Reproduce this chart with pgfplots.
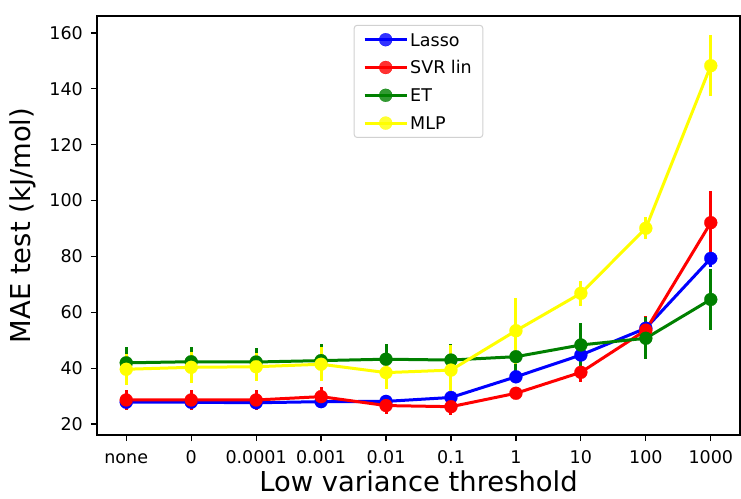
\documentclass[border=0pt]{standalone}
\usepackage{fontspec}
\setmainfont{DejaVu Sans}
\usepackage{pgfplots}
\pgfplotsset{compat=1.18}
\usepackage{pgfplotstable}

\definecolor{mplgreen}{RGB}{0,128,0}
\definecolor{mplyellow}{RGB}{255,255,0}

\pgfplotstableread{
x y e
0 27.8 1.0
1 27.8 1.0
2 27.6 1.0
3 28.0 1.0
4 28.1 1.0
5 29.5 1.5
6 36.9 2.0
7 44.7 2.5
8 54.3 2.5
9 79.3 3.0
}\lasso
\pgfplotstableread{
x y e
0 28.6 3.7
1 28.6 3.6
2 28.6 3.5
3 29.8 3.5
4 26.6 3.0
5 26.2 3.0
6 31.0 1.5
7 38.5 3.3
8 53.6 5.0
9 92.1 11.5
}\svr
\pgfplotstableread{
x y e
0 41.9 5.6
1 42.3 5.4
2 42.2 5.0
3 42.7 5.8
4 43.2 5.3
5 42.9 5.6
6 44.1 6.0
7 48.3 8.0
8 50.7 7.5
9 64.6 11.0
}\et
\pgfplotstableread{
x y e
0 39.6 5.6
1 40.3 5.5
2 40.5 5.0
3 41.4 6.0
4 38.4 6.0
5 39.3 9.0
6 53.4 11.8
7 66.8 4.4
8 90.1 4.0
9 148.3 11.0
}\mlp

\begin{document}
\begin{tikzpicture}
\begin{axis}[
  at={(0,0)}, anchor=south west,
  width=643pt, height=419pt, scale only axis,
  xmin=-0.45, xmax=9.45, ymin=16.06, ymax=166.1,
  xtick={0,1,2,3,4,5,6,7,8,9},
  xticklabels={\mbox{none},\mbox{0},\mbox{0.0001},\mbox{0.001},\mbox{0.01},\mbox{0.1},\mbox{1},\mbox{10},\mbox{100},\mbox{1000}},
  ytick={20,40,60,80,100,120,140,160},
  /pgf/number format/assume math mode=true,
  tick align=outside, major tick length=6pt,
  xtick pos=left, ytick pos=left,
  tick style={line width=1.2pt, black},
  axis line style={line width=1.2pt},
  tick label style={font=\fontsize{17.5}{21}\selectfont},
  xticklabel style={anchor=north, inner sep=0pt, text height=12.8pt, text depth=0pt, yshift=-9pt},
  yticklabel style={anchor=east, inner sep=0pt, xshift=-8pt},
  xlabel={Low variance threshold},
  ylabel={MAE test (kJ/mol)},
  every axis x label/.style={at={(axis description cs:0.5,0)}, anchor=base, inner sep=0pt, text depth=0pt, yshift=-56pt, font=\fontsize{27.4}{32}\selectfont},
  every axis y label/.style={at={(axis description cs:-0.1151,0.5)}, anchor=center, inner sep=0pt, rotate=90, font=\fontsize{27.4}{32}\selectfont},
  legend style={at={(0.5,0.979)}, anchor=north, draw=black!18, line width=1pt, rounded corners=3pt,
    fill=white, fill opacity=0.8, text opacity=1, font=\fontsize{17.5}{21}\selectfont,
    inner xsep=9pt, inner ysep=6pt, row sep=11pt,
    nodes={inner sep=2pt, text height=12.8pt, text depth=0pt},
    /tikz/every even column/.append style={column sep=12pt}},
  legend cell align=left,
  legend image code/.code={\draw[mark repeat=2,mark phase=2] plot coordinates {(0pt,0pt) (21pt,0pt) (42pt,0pt)};},
  every axis plot/.append style={line width=3pt, mark=*, mark size=6.5pt},
  error bars/y dir=both, error bars/y explicit, error bars/error mark=none,
  error bars/error bar style={line width=3pt},
]
\addplot[blue, mark options={solid, draw=blue, fill=blue, line width=0.2pt}] table[x=x,y=y,y error=e] {\lasso};
\addlegendentry{Lasso}
\addplot[red, mark options={solid, draw=red, fill=red, line width=0.2pt}] table[x=x,y=y,y error=e] {\svr};
\addlegendentry{SVR lin}
\addplot[mplgreen, mark options={solid, draw=mplgreen, fill=mplgreen, line width=0.2pt}] table[x=x,y=y,y error=e] {\et};
\addlegendentry{ET}
\addplot[mplyellow, mark options={solid, draw=mplyellow, fill=mplyellow, line width=0.2pt}] table[x=x,y=y,y error=e] {\mlp};
\addlegendentry{MLP}
\end{axis}
\pgfresetboundingbox
\path[use as bounding box] (-97pt,-63pt) rectangle (644pt,435pt);
\end{tikzpicture}
\end{document}
